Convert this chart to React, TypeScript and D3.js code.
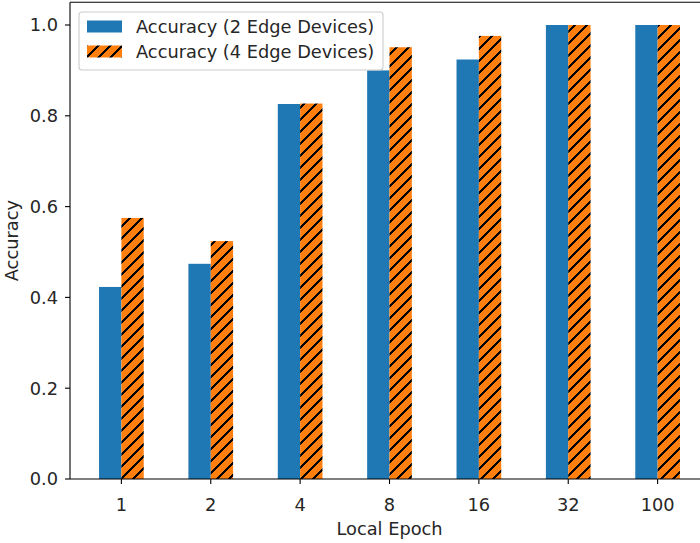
import React from "react";
import * as d3 from "d3";

const categories: string[] = ["1", "2", "4", "8", "16", "32", "100"];
const accuracy2: number[] = [0.423, 0.474, 0.826, 0.9, 0.924, 1.0, 1.0];
const accuracy4: number[] = [0.575, 0.524, 0.827, 0.951, 0.976, 1.0, 1.0];
const yTicks: number[] = [0, 0.2, 0.4, 0.6, 0.8, 1.0];
const seriesNames: string[] = ["Accuracy (2 Edge Devices)", "Accuracy (4 Edge Devices)"];

const W = 700;
const H = 543;
const FONT = "'DejaVu Sans', sans-serif";
const FS = 17.8;
const BLUE = "#1f77b4";
const ORANGE = "#ff7f0e";
const TEXT = "#262626";

export default function App() {
  const barW = 0.25;
  const x = d3.scaleLinear().domain([-0.575, categories.length - 1 + 0.575]).range([70, 709]);
  const y = d3.scaleLinear().domain([0, 1.05]).range([479, 2.3]);
  const [x0, x1] = x.range();
  const [y0, y1] = y.range();

  return (
    <svg
      width={W}
      height={H}
      style={{ position: "fixed", left: 0, top: 0, background: "#fff" }}
      fontFamily={FONT}
      fontSize={FS}
    >
      <defs>
        <pattern id="hatch" patternUnits="userSpaceOnUse" width={12} height={12}>
          <rect width={12} height={12} fill={ORANGE} />
          <path
            d="M-3,3 L3,-3 M0,12 L12,0 M9,15 L15,9"
            stroke="#000"
            strokeWidth={1.6}
            shapeRendering="crispEdges"
          />
        </pattern>
      </defs>

      {/* bars */}
      {categories.map((c, i) => (
        <g key={c}>
          <rect
            x={x(i - barW)}
            y={y(accuracy2[i])}
            width={x(i) - x(i - barW)}
            height={y(0) - y(accuracy2[i])}
            fill={BLUE}
          />
          <rect
            x={x(i)}
            y={y(accuracy4[i])}
            width={x(i + barW) - x(i)}
            height={y(0) - y(accuracy4[i])}
            fill="url(#hatch)"
          />
        </g>
      ))}

      {/* spines */}
      <g stroke="#000" strokeWidth={1.1} fill="none">
        <line x1={x0} x2={x0} y1={y0} y2={y1} />
        <line x1={x1} x2={x1} y1={y0} y2={y1} />
        <line x1={x0} x2={x1} y1={y1} y2={y1} />
        <line x1={x0} x2={x1} y1={y0} y2={y0} />
      </g>

      {/* x axis */}
      {categories.map((c, i) => (
        <g key={"xt" + c}>
          <line x1={x(i)} x2={x(i)} y1={y0} y2={y0 + 5} stroke="#000" strokeWidth={1.1} />
          <text x={x(i)} y={y0 + 26} dy="0.36em" textAnchor="middle" fill={TEXT}>
            {c}
          </text>
        </g>
      ))}
      <text x={(x0 + x1) / 2} y={529} dy="0.36em" textAnchor="middle" fill={TEXT}>
        Local Epoch
      </text>

      {/* y axis */}
      {yTicks.map((t) => (
        <g key={"yt" + t}>
          <line x1={x0 - 5} x2={x0} y1={y(t)} y2={y(t)} stroke="#000" strokeWidth={1.1} />
          <text x={x0 - 12} y={y(t)} dy="0.36em" textAnchor="end" fill={TEXT}>
            {d3.format(".1f")(t)}
          </text>
        </g>
      ))}
      <text
        transform={`translate(18,${(y0 + y1) / 2}) rotate(-90)`}
        textAnchor="middle"
        fill={TEXT}
      >
        Accuracy
      </text>

      {/* legend */}
      <g>
        <rect
          x={79}
          y={12}
          width={304}
          height={58}
          rx={3}
          fill="#fff"
          fillOpacity={0.8}
          stroke="#ccc"
          strokeWidth={1.1}
        />
        <rect x={87} y={20.5} width={35} height={12} fill={BLUE} />
        <text x={136} y={26.5} dy="0.36em" fill={TEXT}>
          {seriesNames[0]}
        </text>
        <rect x={87} y={45.5} width={35} height={12} fill="url(#hatch)" />
        <text x={136} y={51.5} dy="0.36em" fill={TEXT}>
          {seriesNames[1]}
        </text>
      </g>
    </svg>
  );
}
